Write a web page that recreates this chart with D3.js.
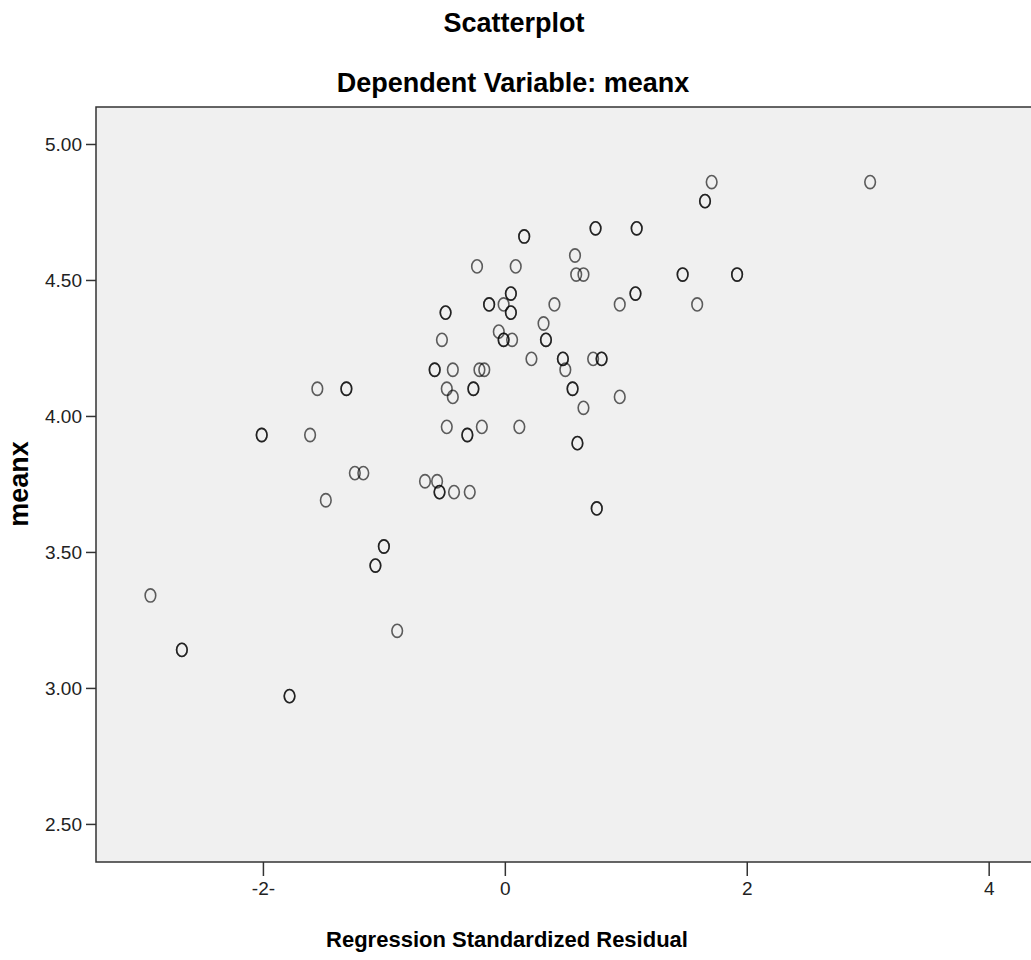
<!DOCTYPE html>
<html>
<head>
<meta charset="utf-8">
<script src="https://cdn.jsdelivr.net/npm/d3@7"></script>
<style>
  body { margin: 0; background: #fff; }
  text { font-family: "Liberation Sans", Arial, sans-serif; }
</style>
</head>
<body>
<div id="scatter"></div>
<script>
// regression standardized residual (x) vs meanx (y); repeated rows are overlapping cases
var residual = [
  3.02, 1.71, 1.655, 1.655, 0.75, 0.75, 1.09, 1.09, 0.16, 0.16,
  -0.23, 0.09, 0.58, 0.59, 0.65, 1.47, 1.47, 1.92, 1.92, 1.08, 1.08,
  1.59, 0.95, 0.41, 0.05, 0.05, -0.13, -0.13, -0.01, 0.05, 0.05, -0.49, -0.49,
  -0.05, -0.01, -0.01, 0.06, 0.32, 0.34, 0.34, -0.52,
  0.22, 0.48, 0.48, 0.50, 0.73, 0.80, 0.80, 0.56, 0.56, 0.65, 0.95, 0.60, 0.60,
  0.12, -0.19, -0.31, -0.31, -0.58, -0.58, -0.43, -0.21, -0.17, -0.26, -0.26,
  -0.48, -0.43, -0.48, -1.31, -1.31, -1.55, -2.01, -2.01, -1.61,
  -1.24, -1.17, -1.48, -0.66, -0.56, -0.54, -0.54, -0.42, -0.29,
  -1.00, -1.00, -1.07, -1.07, -2.93, -2.67, -2.67, -1.78, -1.78, -0.89, 0.76, 0.76
];
var meanx = [
  4.86, 4.86, 4.79, 4.79, 4.69, 4.69, 4.69, 4.69, 4.66, 4.66,
  4.55, 4.55, 4.59, 4.52, 4.52, 4.52, 4.52, 4.52, 4.52, 4.45, 4.45,
  4.41, 4.41, 4.41, 4.45, 4.45, 4.41, 4.41, 4.41, 4.38, 4.38, 4.38, 4.38,
  4.31, 4.28, 4.28, 4.28, 4.34, 4.28, 4.28, 4.28,
  4.21, 4.21, 4.21, 4.17, 4.21, 4.21, 4.21, 4.10, 4.10, 4.03, 4.07, 3.90, 3.90,
  3.96, 3.96, 3.93, 3.93, 4.17, 4.17, 4.17, 4.17, 4.17, 4.10, 4.10,
  4.10, 4.07, 3.96, 4.10, 4.10, 4.10, 3.93, 3.93, 3.93,
  3.79, 3.79, 3.69, 3.76, 3.76, 3.72, 3.72, 3.72, 3.72,
  3.52, 3.52, 3.45, 3.45, 3.34, 3.14, 3.14, 2.97, 2.97, 3.21, 3.66, 3.66
];

var xTicks = [-2, 0, 2, 4];
var xTickLabels = ["-2-", "0", "2", "4"];
var yTicks = [2.5, 3, 3.5, 4, 4.5, 5];

var svgWidth = 1031;
var svgHeight = 960;

var plot = { left: 96, top: 107, right: 1040, bottom: 862 };

var svg = d3.select("#scatter")
  .append("svg")
  .attr("width", svgWidth)
  .attr("height", svgHeight);

var x = d3.scaleLinear()
  .domain([-3.38, 4.35])
  .range([plot.left, 1031]);

var y = d3.scaleLinear()
  .domain([2.36, 5.136])
  .range([plot.bottom, plot.top]);

// plot area
svg.append("rect")
  .attr("x", plot.left)
  .attr("y", plot.top)
  .attr("width", plot.right - plot.left)
  .attr("height", plot.bottom - plot.top)
  .attr("fill", "#f0f0f0")
  .attr("stroke", "#333")
  .attr("stroke-width", 1.5);

var bottomAxis = d3.axisBottom(x)
  .tickValues(xTicks)
  .tickSize(14)
  .tickPadding(6)
  .tickFormat(function(d, i) { return xTickLabels[i]; });

var leftAxis = d3.axisLeft(y)
  .tickValues(yTicks)
  .tickSize(10)
  .tickPadding(4)
  .tickFormat(d3.format(".2f"));

var xAxisG = svg.append("g")
  .attr("transform", `translate(0, ${plot.bottom})`)
  .call(bottomAxis);

var yAxisG = svg.append("g")
  .attr("transform", `translate(${plot.left}, 0)`)
  .call(leftAxis);

[xAxisG, yAxisG].forEach(function(g) {
  g.select(".domain").remove();
  g.selectAll(".tick line").attr("stroke", "#333").attr("stroke-width", 1.5);
  g.selectAll(".tick text")
    .attr("fill", "#222")
    .attr("font-size", "19px")
    .attr("font-family", "Liberation Sans, Arial, sans-serif");
});

var points = residual.map(function(r, i) {
  return { residual: r, meanx: meanx[i] };
});

svg.append("g")
  .selectAll("ellipse")
  .data(points)
  .enter()
  .append("ellipse")
  .attr("cx", d => x(d.residual))
  .attr("cy", d => y(d.meanx))
  .attr("rx", 5.3)
  .attr("ry", 6.6)
  .attr("fill", "none")
  .attr("stroke", "#000")
  .attr("stroke-opacity", 0.62)
  .attr("stroke-width", 1.6);

// titles
svg.append("text")
  .attr("x", 514)
  .attr("y", 32)
  .attr("text-anchor", "middle")
  .attr("font-size", "27px")
  .attr("font-weight", "bold")
  .text("Scatterplot");

svg.append("text")
  .attr("x", 513)
  .attr("y", 92)
  .attr("text-anchor", "middle")
  .attr("font-size", "27px")
  .attr("font-weight", "bold")
  .text("Dependent Variable: meanx");

svg.append("text")
  .attr("x", 507)
  .attr("y", 947)
  .attr("text-anchor", "middle")
  .attr("font-size", "22px")
  .attr("font-weight", "bold")
  .text("Regression Standardized Residual");

svg.append("text")
  .attr("transform", "translate(28, 484) rotate(-90)")
  .attr("text-anchor", "middle")
  .attr("font-size", "27px")
  .attr("font-weight", "bold")
  .text("meanx");
</script>
</body>
</html>
